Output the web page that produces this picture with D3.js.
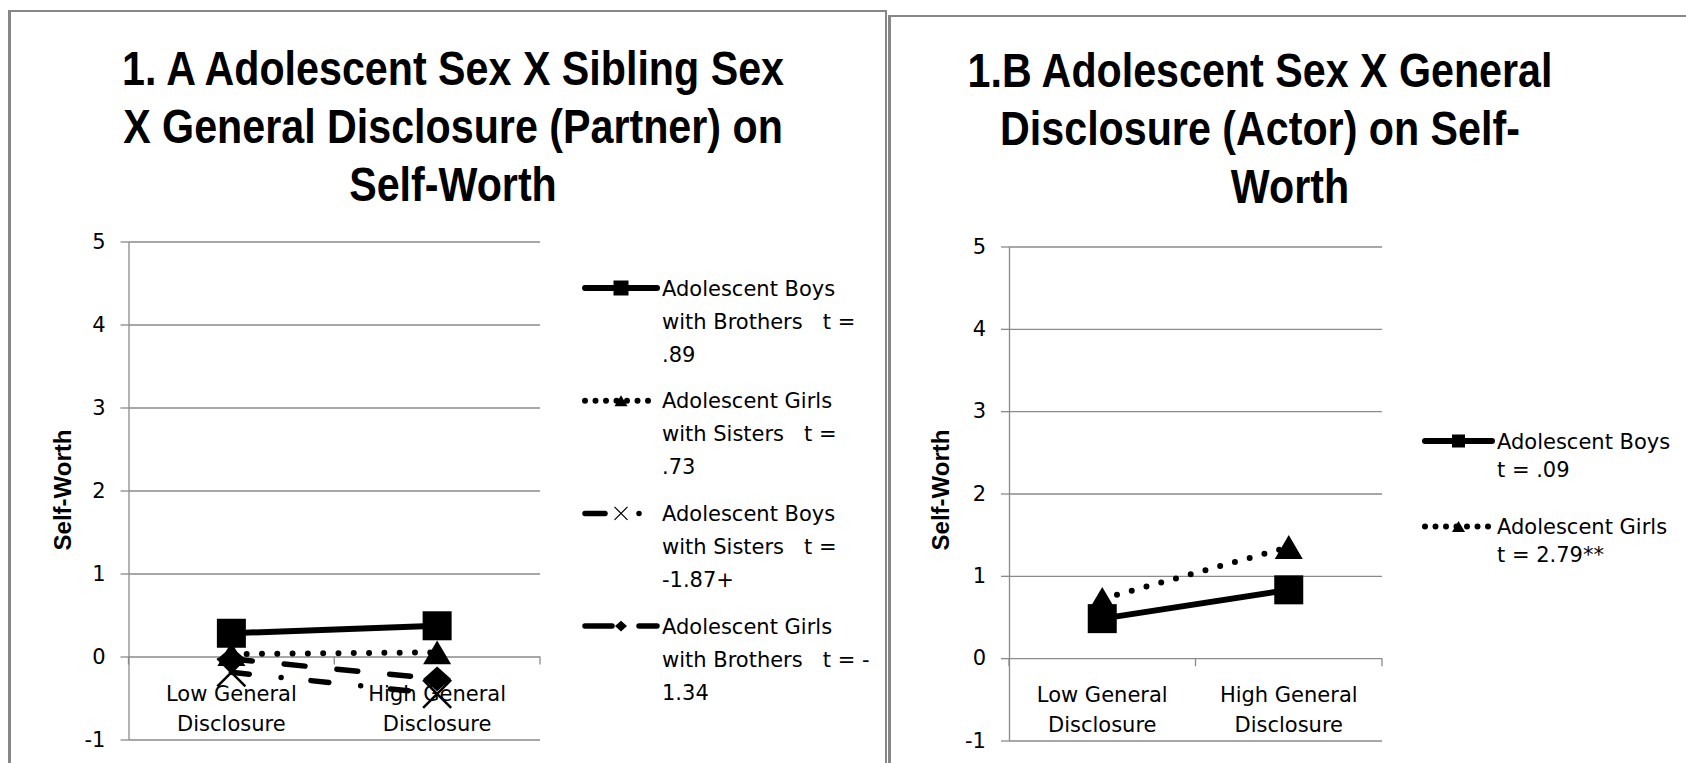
<!DOCTYPE html>
<html>
<head>
<meta charset="utf-8">
<title>Self-Worth</title>
<style>
  body { margin: 0; background: #fff; }
  svg { display: block; }
</style>
</head>
<body>
<script src="https://cdn.jsdelivr.net/npm/d3@7/dist/d3.min.js"></script>
<script>
var width = 1686, height = 763;

// categories and axis
var categories = ["Low General Disclosure", "High General Disclosure"];
var categoryLines = [["Low General", "Disclosure"], ["High General", "Disclosure"]];
var yTicks = [-1, 0, 1, 2, 3, 4, 5];

// 1.A  partner effect, four groups
var boysWithBrothers = [0.28, 0.37];
var girlsWithSisters = [0.03, 0.05];
var boysWithSisters = [-0.19, -0.45];
var girlsWithBrothers = [-0.03, -0.27];

// 1.B  actor effect
var boys = [0.48, 0.83];
var girls = [0.72, 1.35];

var titleA = ["1. A Adolescent Sex X Sibling Sex", "X General Disclosure (Partner) on", "Self-Worth"];
var titleB = ["1.B Adolescent Sex X General", "Disclosure (Actor) on Self-", "Worth"];

var legendA = [
    ["Adolescent Boys", "with Brothers   t =", ".89"],
    ["Adolescent Girls", "with Sisters   t =", ".73"],
    ["Adolescent Boys", "with Sisters   t =", "-1.87+"],
    ["Adolescent Girls", "with Brothers   t = -", "1.34"]
];
var legendB = [
    ["Adolescent Boys", "t = .09"],
    ["Adolescent Girls", "t = 2.79**"]
];

var gridColor = "#8a8a8a";
var textFont = "'DejaVu Sans', sans-serif";
var boldFont = "'Liberation Sans', Arial, sans-serif";

// line styles (plot, legend)
var styles = {
    solid:   { dash: null,          legendDash: null,        width: 6,   cap: "butt",  marker: "square" },
    dotted:  { dash: "0 15.3",      legendDash: "0 10.5",    width: 6,   cap: "round", marker: "triangle" },
    dashDot: { dash: "18 32 0 30",  legendDash: "20 34 0 30", width: 5.5, cap: "round", marker: "x" },
    dashed:  { dash: "21 32",       legendDash: "27 27",     width: 5.5, cap: "round", marker: "diamond" }
};

var svg = d3.select("body").append("svg")
    .attr("width", width)
    .attr("height", height);

// frames around the two charts
function frameLine(x1, y1, x2, y2, w) {
    svg.append("line").attr("x1", x1).attr("y1", y1).attr("x2", x2).attr("y2", y2)
        .attr("stroke", "#878787").attr("stroke-width", w);
}
frameLine(9.5, 10, 9.5, height, 3);
frameLine(8, 11, 886.5, 11, 2);
frameLine(886, 10, 886, height, 2);
frameLine(889.5, 15, 889.5, height, 3);
frameLine(888, 16, width, 16, 2);

function markerPath(type, s) {
    var h = s / 2;
    if (type === "square") return "M" + (-h) + "," + (-h) + "h" + s + "v" + s + "h" + (-s) + "Z";
    if (type === "triangle") return "M0," + (-h * 0.85) + "L" + h + "," + (h * 0.85) + "L" + (-h) + "," + (h * 0.85) + "Z";
    if (type === "diamond") return "M0," + (-h * 0.88) + "L" + h + ",0L0," + (h * 0.88) + "L" + (-h) + ",0Z";
    return "M" + (-h) + "," + (-h) + "L" + h + "," + h + "M" + h + "," + (-h) + "L" + (-h) + "," + h;
}

function drawMarker(g, type, x, y, s, xWidth) {
    var p = g.append("path")
        .attr("d", markerPath(type, s))
        .attr("transform", "translate(" + x + "," + y + ")");
    if (type === "x") {
        p.attr("fill", "none").attr("stroke", "#000").attr("stroke-width", xWidth);
    } else {
        p.attr("fill", "#000");
    }
}

function drawPanel(p) {
    var g = svg.append("g");
    var x = d3.scaleBand().domain(categories).range([p.x0, p.x1]);
    var y = d3.scaleLinear().domain([-1, 5]).range([p.yBot, p.yTop]);
    var cx = function (i) { return x(categories[i]) + x.bandwidth() / 2; };

    // title (slightly stretched to get the tall look of the original face)
    p.title.forEach(function (t, i) {
        g.append("text")
            .attr("transform", "translate(" + p.titleX[i] + "," + (p.titleY + i * 58) + ") scale(0.97,1.12)")
            .attr("text-anchor", "middle")
            .style("font-family", boldFont)
            .style("font-weight", "bold")
            .style("font-size", "42.5px")
            .text(t);
    });

    // gridlines
    g.append("g")
        .attr("transform", "translate(" + p.x0 + ",0)")
        .call(d3.axisLeft(y).tickValues(yTicks).tickSize(-(p.x1 - p.x0)).tickFormat(""))
        .call(function (s) { s.select(".domain").remove(); })
        .selectAll("line").attr("stroke", gridColor).attr("stroke-width", 1.3);

    // y axis
    var ya = g.append("g")
        .attr("transform", "translate(" + p.x0 + ",0)")
        .call(d3.axisLeft(y).tickValues(yTicks).tickSize(8).tickSizeOuter(0).tickPadding(15)
            .tickFormat(function (d) { return String(d); }));
    ya.select(".domain").attr("stroke", gridColor).attr("stroke-width", 1.3);
    ya.selectAll("line").attr("stroke", gridColor).attr("stroke-width", 1.3);
    ya.selectAll("text")
        .style("font-family", textFont)
        .style("font-size", "21px")
        .attr("fill", "#000");

    // x axis ticks at category edges
    var edges = categories.map(function (c) { return x(c); }).concat([p.x1]);
    g.selectAll(".xtick").data(edges).enter().append("line")
        .attr("x1", function (d) { return d; }).attr("x2", function (d) { return d; })
        .attr("y1", y(0)).attr("y2", y(0) + 8)
        .attr("stroke", gridColor).attr("stroke-width", 1.3);

    // category labels
    categoryLines.forEach(function (lines, i) {
        lines.forEach(function (t, j) {
            g.append("text")
                .attr("x", cx(i))
                .attr("y", y(0) + 44 + j * 30)
                .attr("text-anchor", "middle")
                .style("font-family", textFont)
                .style("font-size", "21px")
                .text(t);
        });
    });

    // y title
    g.append("text")
        .attr("transform", "translate(" + p.yTitleX + ",490) rotate(-90)")
        .attr("text-anchor", "middle")
        .attr("dy", "0.35em")
        .style("font-family", boldFont)
        .style("font-weight", "bold")
        .style("font-size", "24px")
        .text("Self-Worth");

    // series
    p.series.forEach(function (s) {
        var st = styles[s.style];
        var pts = s.values.map(function (v, i) { return [cx(i), y(v)]; });
        g.append("path")
            .attr("d", d3.line()(pts))
            .attr("fill", "none")
            .attr("stroke", "#000")
            .attr("stroke-width", st.width)
            .attr("stroke-linecap", st.cap)
            .attr("stroke-dasharray", st.dash);
        pts.forEach(function (pt) {
            drawMarker(g, st.marker, pt[0], pt[1], st.marker === "square" ? 29 : 28, 2.5);
        });
    });

    // legend
    p.legend.forEach(function (lines, i) {
        var st = styles[p.series[i].style];
        var ly = p.legY + i * p.legStep;
        g.append("line")
            .attr("x1", p.legX0 + 3).attr("x2", p.legX1 - 3)
            .attr("y1", ly).attr("y2", ly)
            .attr("stroke", "#000")
            .attr("stroke-width", st.width)
            .attr("stroke-linecap", "round")
            .attr("stroke-dasharray", st.legendDash);
        var ms = { square: p.legSquare, triangle: 13, diamond: 12, x: 13 }[st.marker];
        drawMarker(g, st.marker, (p.legX0 + p.legX1) / 2, ly, ms, 1.2);
        lines.forEach(function (t, j) {
            g.append("text")
                .attr("x", p.legText)
                .attr("y", ly + j * p.legLine + 7.5)
                .style("font-family", textFont)
                .style("font-size", "21px")
                .style("white-space", "pre")
                .text(t);
        });
    });
}

drawPanel({
    x0: 128.5, x1: 540, yTop: 241.5, yBot: 739.5,
    title: titleA, titleX: [453, 453, 453], titleY: 85,
    yTitleX: 62.5,
    series: [
        { values: boysWithBrothers, style: "solid" },
        { values: girlsWithSisters, style: "dotted" },
        { values: boysWithSisters, style: "dashDot" },
        { values: girlsWithBrothers, style: "dashed" }
    ],
    legend: legendA,
    legX0: 582, legX1: 660, legText: 662, legY: 288, legStep: 112.7, legLine: 33, legSquare: 15
});

drawPanel({
    x0: 1009, x1: 1382, yTop: 246.5, yBot: 740.5,
    title: titleB, titleX: [1260, 1260, 1290], titleY: 87,
    yTitleX: 941,
    series: [
        { values: boys, style: "solid" },
        { values: girls, style: "dotted" }
    ],
    legend: legendB,
    legX0: 1422, legX1: 1495, legText: 1497, legY: 441, legStep: 85.5, legLine: 28, legSquare: 13
});
</script>
</body>
</html>
